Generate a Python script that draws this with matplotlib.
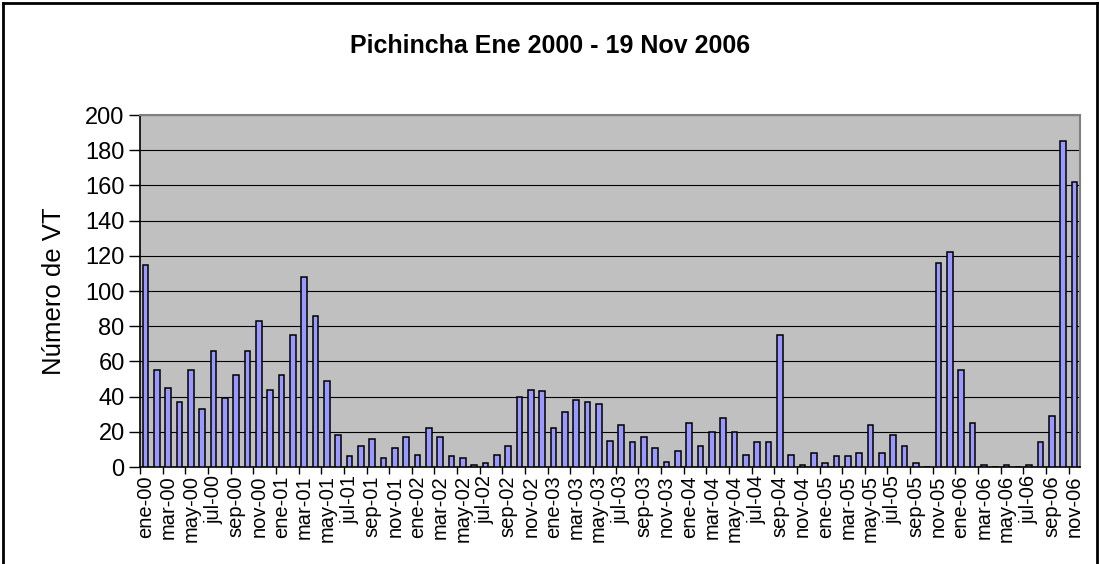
import matplotlib
matplotlib.use("Agg")
import matplotlib.pyplot as plt
from matplotlib.lines import Line2D
import numpy as np

plt.rcParams['font.family'] = ['Liberation Sans', 'DejaVu Sans']

meses = ["ene", "feb", "mar", "abr", "may", "jun", "jul", "ago", "sep", "oct", "nov", "dic"]
years = ["00", "01", "02", "03", "04", "05", "06"]
categories = [f"{m}-{y}" for y in years for m in meses][:83]

values_2000 = [115, 55, 45, 37, 55, 33, 66, 39, 52, 66, 83, 44]
values_2001 = [52, 75, 108, 86, 49, 18, 6, 12, 16, 5, 11, 17]
values_2002 = [7, 22, 17, 6, 5, 1, 2, 7, 12, 40, 44, 43]
values_2003 = [22, 31, 38, 37, 36, 15, 24, 14, 17, 11, 3, 9]
values_2004 = [25, 12, 20, 28, 20, 7, 14, 14, 75, 7, 1, 8]
values_2005 = [2, 6, 6, 8, 24, 8, 18, 12, 2, 0, 116, 122]
values_2006 = [55, 25, 1, 0, 1, 0, 1, 14, 29, 185, 162]
values = values_2000 + values_2001 + values_2002 + values_2003 + values_2004 + values_2005 + values_2006

title = "Pichincha Ene 2000 - 19 Nov 2006"
ylabel = "Número de VT"

fig = plt.figure(figsize=(11, 5.64), dpi=100)
ax = fig.add_axes([140/1100, 1 - 467/564, (1080-140)/1100, (467-115)/564])
ax.set_facecolor("#C0C0C0")

x = np.arange(len(values))
ax.bar(x, values, width=0.5, color="#9999FF", edgecolor="black", linewidth=1.1, zorder=3)

ax.set_xlim(-0.5, len(values) - 0.5)
ax.set_ylim(0, 200)
ax.set_yticks(np.arange(0, 201, 20))
ax.yaxis.grid(True, color="black", linewidth=0.8, zorder=1)
ax.set_axisbelow(True)

ax.set_xticks(np.arange(-0.5, len(values), 2))
ax.set_xticklabels([])
ax.set_xticks(x[::2], minor=True)
ax.set_xticklabels(categories[::2], minor=True, rotation=90, fontsize=14.5)
ax.tick_params(axis='x', which='major', direction='out', length=5, width=1, color='black')
ax.tick_params(axis='x', which='minor', length=0, pad=6)
ax.tick_params(axis='y', direction='out', length=8, width=1, labelsize=17, pad=3)

for s in ['top', 'right']:
    ax.spines[s].set_color("#808080")
    ax.spines[s].set_linewidth(1.5)
for s in ['left', 'bottom']:
    ax.spines[s].set_color("black")
    ax.spines[s].set_linewidth(1.2)

ax.set_ylabel(ylabel, fontsize=18.5, labelpad=14)
fig.text(0.5, 1 - 46/564, title, ha='center', va='center', fontsize=18, fontweight='bold')

# outer chart frame
fig.add_artist(Line2D([3/1100, 3/1100], [0, 1 - 3/564], transform=fig.transFigure, color='black', linewidth=2))
fig.add_artist(Line2D([3/1100, 1097/1100], [1 - 3/564, 1 - 3/564], transform=fig.transFigure, color='black', linewidth=2))
fig.add_artist(Line2D([1097/1100, 1097/1100], [0, 1 - 3/564], transform=fig.transFigure, color='black', linewidth=2))

fig.savefig("out.png", dpi=100)
